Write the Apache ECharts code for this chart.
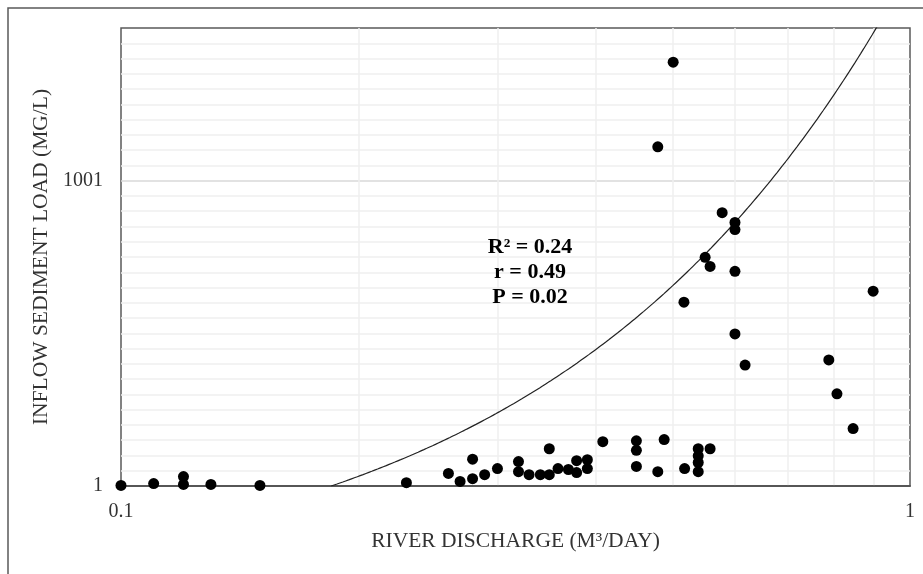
<!DOCTYPE html>
<html><head><meta charset="utf-8">
<script src="https://cdn.jsdelivr.net/npm/echarts@6/dist/echarts.min.js"></script>
<style>html,body{margin:0;padding:0;background:#fff}#c{width:923px;height:574px}</style>
</head><body><div id="c"></div>
<script>
// River discharge (m3/day)
const discharge = [0.100,0.110,0.120,0.120,0.130,0.150,0.230,0.260,0.269,0.279,0.279,0.289,0.300,0.319,0.319,0.329,0.340,0.349,0.349,0.358,0.369,0.378,0.378,0.390,0.390,0.408,0.450,0.450,0.450,0.479,0.488,0.501,0.479,0.517,0.518,0.539,0.539,0.539,0.539,0.558,0.578,0.600,0.600,0.550,0.558,0.600,0.600,0.618,0.898,0.789,0.808,0.847];
// Inflow sediment load (mg/L)
const sediment  = [3,9,32,6,6,3,12,42,16,89,25,38,58,81,48,38,38,38,123,58,55,84,45,87,58,146,149,118,65,48,153,1389,1112,603,58,123,100,78,48,123,896,864,841,750,720,704,499,397,639,414,303,189];

const xTickLabels = [0.1, 1];
const xMinorTicks = [0.2,0.3,0.4,0.5,0.6,0.7,0.8,0.9];
const yTickLabels = [1, 1001];
const yMinorTicks = [51,101,151,201,251,301,351,401,451,501,551,601,651,701,751,801,851,901,951,1051,1101,1151,1201,1251,1301,1351,1401,1451];
const trendSlope = 2079, trendIntercept = -383;
const statsText = ['R² = 0.24','r = 0.49','P = 0.02'];

const FONT = '"Liberation Serif","Times New Roman",serif';
const points = discharge.map((x,i)=>[x, sediment[i]]);
const x0 = (1 - trendIntercept)/trendSlope;
const trend = [];
for (let i=0;i<=200;i++){ const x = x0*Math.pow(1/x0, i/200); trend.push([x, trendSlope*x+trendIntercept]); }

const chart = echarts.init(document.getElementById('c'));
chart.setOption({
  animation:false,
  backgroundColor:'#fff',
  grid:{left:121,right:13,top:28,bottom:88,show:true,borderColor:'#595959',borderWidth:1.5},
  xAxis:[
    {type:'log',logBase:10,min:0.1,max:1,
     axisLine:{show:true,onZero:false,lineStyle:{color:'#333',width:1.5}},
     axisTick:{show:false,customValues:xTickLabels},
     axisLabel:{customValues:xTickLabels,formatter:v=>String(v),fontFamily:FONT,fontSize:20,color:'#333',margin:16},
     splitLine:{show:false},
     name:'RIVER DISCHARGE (M³/DAY)',nameLocation:'middle',nameGap:44,
     nameTextStyle:{fontFamily:FONT,fontSize:21.5,color:'#333'}},
    {type:'log',logBase:10,min:0.1,max:1,
     axisLine:{show:false},axisTick:{show:false,customValues:xMinorTicks},axisLabel:{show:false},
     splitLine:{show:true,lineStyle:{color:'#efefef',width:1.5}}}
  ],
  yAxis:[
    {type:'value',min:1,max:1501,
     axisLine:{show:false},axisTick:{show:false,customValues:yTickLabels},
     axisLabel:{customValues:yTickLabels,formatter:v=>String(v),fontFamily:FONT,fontSize:20,color:'#333',margin:18},
     splitLine:{show:true,lineStyle:{color:'#d9d9d9',width:1.5}},
     name:'INFLOW SEDIMENT LOAD (MG/L)',nameLocation:'middle',nameGap:67,
     nameTextStyle:{fontFamily:FONT,fontSize:21.5,color:'#333'}},
    {type:'value',min:1,max:1501,position:'left',
     axisLine:{show:false},axisTick:{show:false,customValues:yMinorTicks},axisLabel:{show:false},
     splitLine:{show:true,lineStyle:{color:'#efefef',width:1.5}}}
  ],
  series:[
    {type:'line',data:trend,showSymbol:false,symbol:'none',clip:true,
     lineStyle:{color:'#222',width:1.2},z:3},
    {type:'scatter',data:points,symbol:'circle',symbolSize:11,
     itemStyle:{color:'#000',opacity:1},z:4}
  ],
  graphic:[
    {type:'rect',shape:{x:8,y:8,width:1000,height:1000},style:{fill:'none',stroke:'#595959',lineWidth:1.5},z:0},
    {type:'text',x:530,y:235,style:{text:statsText.join('\n'),font:'bold 22px '+FONT,textAlign:'center',lineHeight:25,fill:'#000'},z:10}
  ]
});
</script></body></html>
